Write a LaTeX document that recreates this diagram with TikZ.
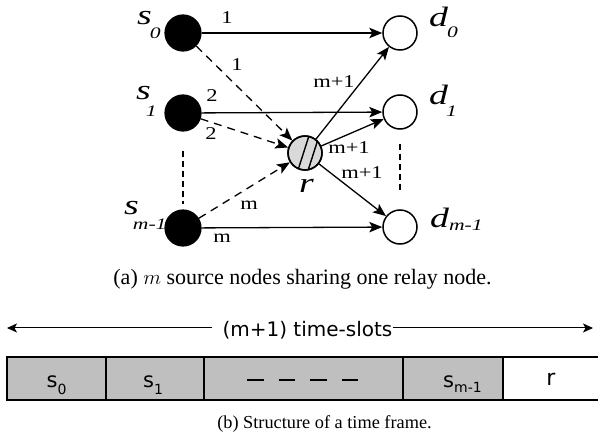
\documentclass[tikz,border=0pt]{standalone}
\usepackage{fontspec}
\setmainfont{Liberation Serif}
\newfontfamily\topfont[FakeStretch=1.35]{Liberation Serif}
\newfontfamily\edgefont[FakeStretch=1.25]{Liberation Serif}
\newfontfamily\sansf{DejaVu Sans}
\usetikzlibrary{arrows.meta}
\definecolor{slotgray}{RGB}{191,191,191}
\definecolor{hatchgray}{RGB}{217,217,217}
\newcommand\nlab[4]{{\topfont\itshape\fontsize{28}{28}\selectfont #1}\kern#4\raisebox{-#3}{\topfont\itshape\fontsize{16}{16}\selectfont #2}}
\newcommand\blab[3]{{\sansf\fontsize{21}{21}\selectfont #1}\raisebox{-#3}{\sansf\fontsize{14}{14}\selectfont #2}}
\begin{document}
\begin{tikzpicture}[x=1pt,y=-1pt,
  src/.style={circle,fill=black,draw=black,line width=1.2pt,minimum size=36pt,inner sep=0pt},
  dst/.style={circle,fill=white,draw=black,line width=1.5pt,minimum size=34pt,inner sep=0pt},
  rel/.style={circle,fill=hatchgray,draw=black,line width=1.5pt,minimum size=34pt,inner sep=0pt},
  arr/.style={line width=1.3pt,-{Stealth[length=13pt,width=10.5pt,inset=3pt]}},
  darr/.style={arr,dash pattern=on 8pt off 6pt},
  elab/.style={font=\edgefont\fontsize{18}{18}\selectfont,inner sep=0pt},
  nlbl/.style={inner sep=0pt,anchor=base west},
  vdots/.style={line width=2pt,dash pattern=on 6pt off 4pt},
  slot/.style={draw=black,line width=1.8pt,fill=slotgray,minimum height=43pt,inner sep=0pt},
  btxt/.style={anchor=base,inner sep=0pt},
  thinarr/.style={line width=1pt,-{Stealth[length=10pt,width=9pt,inset=2.5pt]}}
]
\useasboundingbox (0,0) rectangle (598,441);

% nodes
\node[src] (s0) at (183,33) {};
\node[src] (s1) at (183,113) {};
\node[src] (sm) at (183,228) {};
\node[dst] (d0) at (400,33) {};
\node[dst] (d1) at (400,112) {};
\node[dst] (dm) at (400,227) {};
\node[rel] (r) at (305,153) {};
\begin{scope}
  \clip (r.center) circle (17pt);
  \draw[line width=1.4pt] (295,179.5) -- (311,129.5);
  \draw[line width=1.4pt] (304.5,181.5) -- (320.5,131.5);
\end{scope}
\draw[line width=1.5pt] (r.center) circle (17pt);

% edges
\draw[arr] (s0) -- (d0);
\draw[arr] (s1) -- (d1);
\draw[arr] (sm) -- (dm);
\draw[darr] (s0) -- (r);
\draw[darr] (s1) -- (r);
\draw[darr] (sm) -- (r);
\draw[arr] (r) -- (d0);
\draw[arr] (r) -- (d1);
\draw[arr] (r) -- (dm);

\draw[vdots,shorten <=19pt,shorten >=5pt] (s1.south) -- (sm.north);
\draw[vdots,shorten <=14pt,shorten >=17pt] (d1.south) -- (dm.north);

% node labels
\node[nlbl] (ls0) at (137,25) {\nlab{s}{0}{14pt}{-2pt}};
\node[nlbl] (ls1) at (136,100) {\nlab{s}{1}{17pt}{-5pt}};
\node[nlbl] (lsm) at (124,215) {\nlab{s}{m-1}{15pt}{-6pt}};
\node[nlbl] (ld0) at (429,27) {\nlab{d}{0}{11pt}{-1pt}};
\node[nlbl] (ld1) at (429,105) {\nlab{d}{1}{12pt}{-2pt}};
\node[nlbl] (ldm) at (430,228) {\nlab{d}{m-1}{3pt}{0pt}};
\node[nlbl] (lr) at (299,193) {\topfont\itshape\fontsize{28}{28}\selectfont r};

% edge labels
\node[elab] (e1) at (227,17.5) {1};
\node[elab] (e2) at (237,65) {1};
\node[elab] (e3) at (212,96) {2};
\node[elab] (e4) at (211,134) {2};
\node[elab] (e5) at (249,205) {m};
\node[elab] (e6) at (222,238) {m};
\node[elab] (e7) at (334,82) {m+1};
\node[elab] (e8) at (349,148) {m+1};
\node[elab] (e9) at (362,173) {m+1};

% caption a
\node[anchor=base,inner sep=0pt,font=\fontsize{22}{22}\selectfont] (capa) at (302.5,285) {(a) $m$ source nodes sharing one relay node.};

% time frame
\node[btxt,font=\sansf\fontsize{20}{20}\selectfont] (ts) at (307.5,337) {(m+1) time-slots};
\coordinate (la) at (7,328);
\coordinate (lb) at (212,328);
\coordinate (ra) at (593,328);
\coordinate (rb) at (393,328);
\draw[thinarr] (lb) -- (la);
\draw[thinarr] (rb) -- (ra);

\node[slot,minimum width=99pt] (b0) at (56.5,378.5) {};
\node[slot,minimum width=98pt] (b1) at (155,378.5) {};
\node[slot,minimum width=199pt] (b2) at (303.5,378.5) {};
\node[slot,minimum width=100pt] (b3) at (453,378.5) {};
\node[slot,fill=white,minimum width=100pt] (b4) at (553,378.5) {};

\node[btxt] (t0) at (56.5,388) {\blab{s}{0}{7pt}};
\node[btxt] (t1) at (153,388) {\blab{s}{1}{7pt}};
\draw[line width=2.2pt,dash pattern=on 16.5pt off 15.2pt] (247,380) -- (358,380);
\node[btxt] (t3) at (462.5,388) {\blab{s}{m-1}{5pt}};
\node[btxt,font=\sansf\fontsize{22}{22}\selectfont] (t4) at (551,385) {r};

% caption b
\node[anchor=base,inner sep=0pt,font=\fontsize{18.3}{18.3}\selectfont] (capb) at (324.5,428) {(b) Structure of a time frame.};
\end{tikzpicture}
\end{document}
